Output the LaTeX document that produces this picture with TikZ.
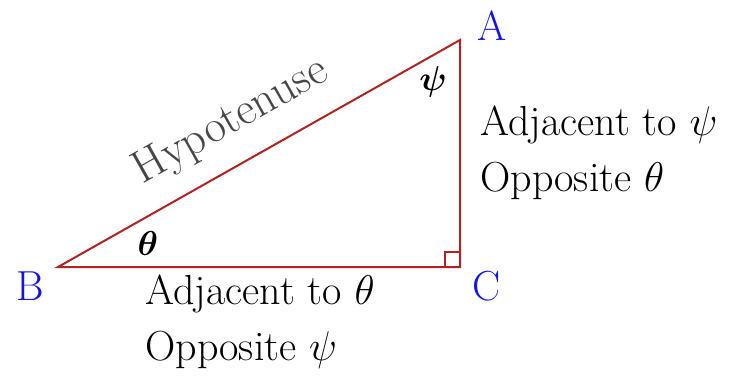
\documentclass[tikz,border=0pt]{standalone}
\usepackage{amsmath,amssymb}
\usepackage{tikz}
\usetikzlibrary{positioning}
\usepackage{xcolor}
\definecolor{sidered}{RGB}{175,35,35}
\definecolor{vertblue}{RGB}{20,20,230}
\definecolor{hypgray}{RGB}{70,70,70}

\begin{document}
\begin{tikzpicture}[
  x=0.5pt,y=-0.5pt,
  side/.style={draw=sidered,line width=1pt},
  vert/.style={text=vertblue,font=\fontsize{21}{25}\selectfont},
  lbl/.style={align=left,anchor=west,inner sep=0pt,
              font=\fontsize{21}{28}\selectfont},
  ang/.style={inner sep=0pt,font=\fontsize{16}{18}\selectfont\boldmath}
]
\useasboundingbox (0,0) rectangle (743,375);
\coordinate (A) at (460,40);
\coordinate (B) at (58,267);
\coordinate (C) at (460,267);
\draw[side](B)--(C)--(A)--cycle;
\draw[side,line width=0.8pt]([xshift=-7.5pt]C)--++(0,-15)--++(15,0);
\node[vert](a) at (492,26){A};
\node[vert](b) at (30,286){B};
\node[vert](c) at (487,286){C};
\node[ang](theta) at (148,243){$\theta$};
\node[ang](psi) at (433,82){$\psi$};
\node[text=hypgray,rotate=29.4,inner sep=0pt,
      font=\fontsize{23}{27}\selectfont](hyp) at (231,122){Hypotenuse};
\node[lbl](right) at (480,153){Adjacent to $\psi$\\Opposite $\theta$};
\node[lbl](bottom) at (145,322){Adjacent to $\theta$\\Opposite $\psi$};
\end{tikzpicture}
\end{document}
